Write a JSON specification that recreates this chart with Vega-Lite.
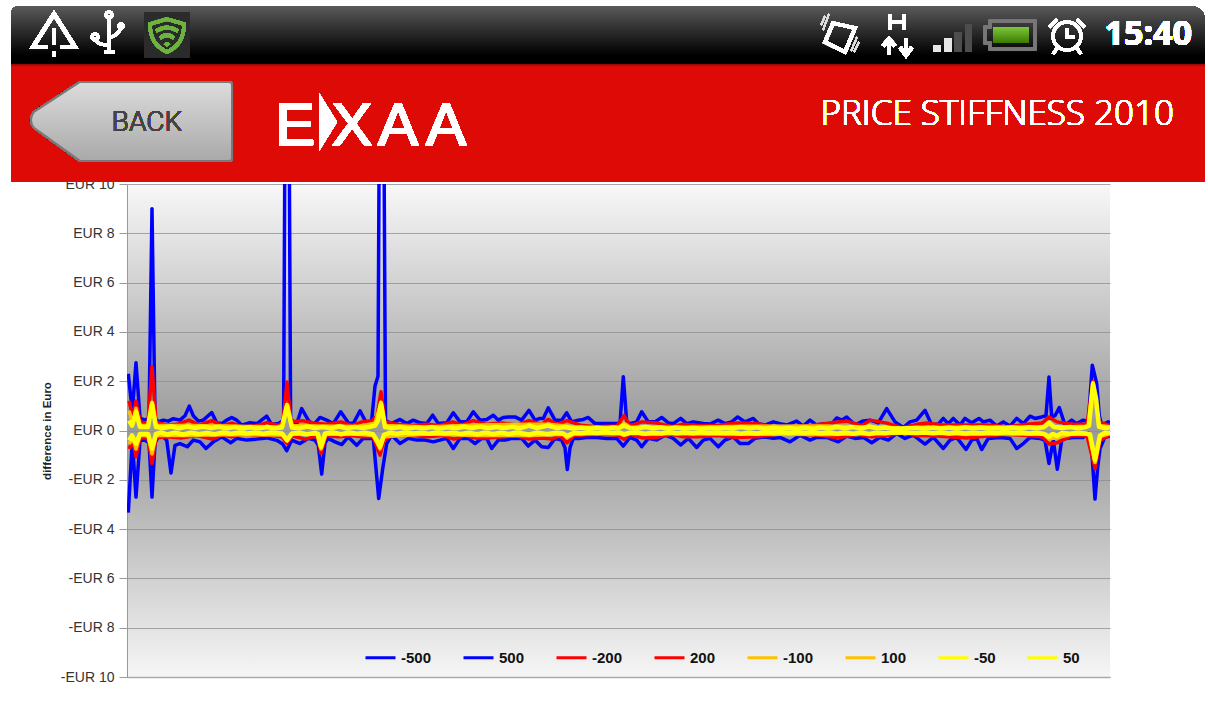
{"$schema":"https://vega.github.io/schema/vega-lite/v6.json","width":983,"height":493,"autosize":{"type":"none"},"padding":{"left":127,"top":184,"right":98,"bottom":30},"background":"#ffffff",
"view":{"stroke":null,"fill":{"gradient":"linear","x1":0,"y1":0,"x2":0,"y2":1,"stops":[{"offset":0,"color":"#f8f8f8"},{"offset":0.5,"color":"#999999"},{"offset":1,"color":"#f6f6f6"}]}},
"config":{"axisX":{"grid":false},"axisY":{"grid":true}},
"data":{"values":[
{"s":"-500","t":1.3,"v":-3.33},{"s":"-500","t":5.3,"v":-0.4},{"s":"-500","t":9,"v":-2.7},{"s":"-500","t":13,"v":-0.4},{"s":"-500","t":18,"v":-0.4},{"s":"-500","t":22,"v":-0.5},{"s":"-500","t":25,"v":-2.7},{"s":"-500","t":28,"v":-0.5},{"s":"-500","t":31.3,"v":-0.26},{"s":"-500","t":36.3,"v":-0.26},{"s":"-500","t":39.7,"v":-0.39},{"s":"-500","t":44,"v":-1.72},{"s":"-500","t":48,"v":-0.6},{"s":"-500","t":53,"v":-0.53},{"s":"-500","t":60.3,"v":-0.66},{"s":"-500","t":66.3,"v":-0.39},{"s":"-500","t":73,"v":-0.46},{"s":"-500","t":79,"v":-0.73},{"s":"-500","t":86.3,"v":-0.46},{"s":"-500","t":94.7,"v":-0.26},{"s":"-500","t":103.7,"v":-0.5},{"s":"-500","t":109.7,"v":-0.32},{"s":"-500","t":119.7,"v":-0.39},{"s":"-500","t":129.7,"v":-0.35},{"s":"-500","t":139.7,"v":-0.3},{"s":"-500","t":149.7,"v":-0.4},{"s":"-500","t":155.7,"v":-0.55},{"s":"-500","t":159.7,"v":-0.82},{"s":"-500","t":164.7,"v":-0.39},{"s":"-500","t":173,"v":-0.53},{"s":"-500","t":181.3,"v":-0.32},{"s":"-500","t":188,"v":-0.39},{"s":"-500","t":191.3,"v":-0.6},{"s":"-500","t":194.7,"v":-1.77},{"s":"-500","t":198,"v":-0.5},{"s":"-500","t":201.3,"v":-0.32},{"s":"-500","t":208,"v":-0.46},{"s":"-500","t":214.7,"v":-0.57},{"s":"-500","t":221.3,"v":-0.26},{"s":"-500","t":229.7,"v":-0.6},{"s":"-500","t":236.3,"v":-0.32},{"s":"-500","t":246.3,"v":-0.32},{"s":"-500","t":249,"v":-1.55},{"s":"-500","t":251.7,"v":-2.76},{"s":"-500","t":255.7,"v":-1.55},{"s":"-500","t":259.7,"v":-0.53},{"s":"-500","t":264.7,"v":-0.19},{"s":"-500","t":273,"v":-0.53},{"s":"-500","t":281.3,"v":-0.32},{"s":"-500","t":289.7,"v":-0.39},{"s":"-500","t":298,"v":-0.39},{"s":"-500","t":306.3,"v":-0.46},{"s":"-500","t":313,"v":-0.39},{"s":"-500","t":319.7,"v":-0.32},{"s":"-500","t":326.3,"v":-0.73},{"s":"-500","t":333,"v":-0.32},{"s":"-500","t":341.3,"v":-0.32},{"s":"-500","t":348,"v":-0.53},{"s":"-500","t":354.7,"v":-0.32},{"s":"-500","t":359.7,"v":-0.32},{"s":"-500","t":364.7,"v":-0.73},{"s":"-500","t":371.3,"v":-0.39},{"s":"-500","t":378,"v":-0.39},{"s":"-500","t":384.7,"v":-0.32},{"s":"-500","t":394.7,"v":-0.32},{"s":"-500","t":401.3,"v":-0.63},{"s":"-500","t":408,"v":-0.39},{"s":"-500","t":414.7,"v":-0.66},{"s":"-500","t":421.3,"v":-0.69},{"s":"-500","t":428,"v":-0.32},{"s":"-500","t":434.7,"v":-0.39},{"s":"-500","t":438,"v":-0.7},{"s":"-500","t":440.3,"v":-1.58},{"s":"-500","t":443,"v":-0.7},{"s":"-500","t":446.3,"v":-0.32},{"s":"-500","t":453,"v":-0.32},{"s":"-500","t":459.7,"v":-0.28},{"s":"-500","t":469.7,"v":-0.28},{"s":"-500","t":479.7,"v":-0.32},{"s":"-500","t":489.7,"v":-0.32},{"s":"-500","t":496.3,"v":-0.63},{"s":"-500","t":503,"v":-0.28},{"s":"-500","t":509.7,"v":-0.39},{"s":"-500","t":514.7,"v":-0.66},{"s":"-500","t":521.3,"v":-0.32},{"s":"-500","t":529.7,"v":-0.39},{"s":"-500","t":538,"v":-0.19},{"s":"-500","t":546.3,"v":-0.32},{"s":"-500","t":553.7,"v":-0.59},{"s":"-500","t":561.3,"v":-0.32},{"s":"-500","t":569.7,"v":-0.69},{"s":"-500","t":576.3,"v":-0.39},{"s":"-500","t":583,"v":-0.32},{"s":"-500","t":591.3,"v":-0.66},{"s":"-500","t":598,"v":-0.39},{"s":"-500","t":606.3,"v":-0.26},{"s":"-500","t":613,"v":-0.53},{"s":"-500","t":621.3,"v":-0.53},{"s":"-500","t":628,"v":-0.32},{"s":"-500","t":638,"v":-0.26},{"s":"-500","t":646.3,"v":-0.32},{"s":"-500","t":653,"v":-0.28},{"s":"-500","t":663,"v":-0.46},{"s":"-500","t":673,"v":-0.19},{"s":"-500","t":683,"v":-0.39},{"s":"-500","t":689.7,"v":-0.28},{"s":"-500","t":699.7,"v":-0.28},{"s":"-500","t":711.3,"v":-0.46},{"s":"-500","t":719.7,"v":-0.23},{"s":"-500","t":728,"v":-0.32},{"s":"-500","t":736.3,"v":-0.28},{"s":"-500","t":744.7,"v":-0.5},{"s":"-500","t":753,"v":-0.28},{"s":"-500","t":761.3,"v":-0.39},{"s":"-500","t":769.7,"v":-0.12},{"s":"-500","t":778,"v":-0.32},{"s":"-500","t":786.3,"v":-0.19},{"s":"-500","t":798,"v":-0.55},{"s":"-500","t":806.3,"v":-0.28},{"s":"-500","t":816.3,"v":-0.73},{"s":"-500","t":823,"v":-0.39},{"s":"-500","t":829.7,"v":-0.28},{"s":"-500","t":839,"v":-0.77},{"s":"-500","t":844.7,"v":-0.39},{"s":"-500","t":849.7,"v":-0.32},{"s":"-500","t":854.7,"v":-0.77},{"s":"-500","t":861.3,"v":-0.32},{"s":"-500","t":873,"v":-0.28},{"s":"-500","t":883,"v":-0.32},{"s":"-500","t":889.7,"v":-0.73},{"s":"-500","t":896.3,"v":-0.53},{"s":"-500","t":903,"v":-0.28},{"s":"-500","t":913,"v":-0.32},{"s":"-500","t":918,"v":-0.4},{"s":"-500","t":922,"v":-1.34},{"s":"-500","t":926.3,"v":-0.39},{"s":"-500","t":930.3,"v":-1.57},{"s":"-500","t":934.7,"v":-0.39},{"s":"-500","t":939.7,"v":-0.32},{"s":"-500","t":946.3,"v":-0.28},{"s":"-500","t":956.3,"v":-0.28},{"s":"-500","t":961.3,"v":-0.12},{"s":"-500","t":964.7,"v":-0.8},{"s":"-500","t":968,"v":-2.78},{"s":"-500","t":970.7,"v":-1.5},{"s":"-500","t":973,"v":-0.73},{"s":"-500","t":978,"v":-0.26},{"s":"-500","t":983,"v":-0.23},
{"s":"500","t":1.3,"v":2.3},{"s":"500","t":5.3,"v":0.75},{"s":"500","t":9,"v":2.75},{"s":"500","t":13,"v":0.5},{"s":"500","t":18,"v":0.42},{"s":"500","t":22,"v":0.5},{"s":"500","t":25,"v":9.0},{"s":"500","t":28,"v":0.5},{"s":"500","t":31.3,"v":0.35},{"s":"500","t":36.3,"v":0.42},{"s":"500","t":41.3,"v":0.38},{"s":"500","t":46.3,"v":0.48},{"s":"500","t":53,"v":0.42},{"s":"500","t":58,"v":0.6},{"s":"500","t":62.3,"v":0.99},{"s":"500","t":66.3,"v":0.6},{"s":"500","t":71.3,"v":0.38},{"s":"500","t":76.3,"v":0.42},{"s":"500","t":84.7,"v":0.73},{"s":"500","t":89.7,"v":0.31},{"s":"500","t":94.7,"v":0.28},{"s":"500","t":99.7,"v":0.42},{"s":"500","t":104.7,"v":0.53},{"s":"500","t":109.7,"v":0.42},{"s":"500","t":114.7,"v":0.22},{"s":"500","t":123,"v":0.32},{"s":"500","t":130,"v":0.28},{"s":"500","t":139.7,"v":0.58},{"s":"500","t":144.7,"v":0.24},{"s":"500","t":151.3,"v":0.28},{"s":"500","t":156.6,"v":0.4},{"s":"500","t":160,"v":30},{"s":"500","t":163.6,"v":0.45},{"s":"500","t":169.7,"v":0.28},{"s":"500","t":174.7,"v":0.89},{"s":"500","t":181.3,"v":0.42},{"s":"500","t":186.3,"v":0.22},{"s":"500","t":193,"v":0.53},{"s":"500","t":199.7,"v":0.42},{"s":"500","t":206.3,"v":0.28},{"s":"500","t":213.7,"v":0.76},{"s":"500","t":221.3,"v":0.31},{"s":"500","t":226.3,"v":0.28},{"s":"500","t":233,"v":0.8},{"s":"500","t":239.7,"v":0.28},{"s":"500","t":244.7,"v":0.42},{"s":"500","t":248,"v":1.8},{"s":"500","t":251,"v":2.2},{"s":"500","t":254.5,"v":30},{"s":"500","t":258.5,"v":0.4},{"s":"500","t":264.7,"v":0.28},{"s":"500","t":273,"v":0.45},{"s":"500","t":279.7,"v":0.28},{"s":"500","t":286.3,"v":0.42},{"s":"500","t":293,"v":0.31},{"s":"500","t":299.7,"v":0.28},{"s":"500","t":305.7,"v":0.62},{"s":"500","t":311.3,"v":0.28},{"s":"500","t":319.7,"v":0.31},{"s":"500","t":326.3,"v":0.72},{"s":"500","t":333,"v":0.35},{"s":"500","t":339.7,"v":0.35},{"s":"500","t":346.3,"v":0.76},{"s":"500","t":353,"v":0.42},{"s":"500","t":359.7,"v":0.45},{"s":"500","t":366.3,"v":0.62},{"s":"500","t":371.3,"v":0.42},{"s":"500","t":376.3,"v":0.53},{"s":"500","t":381.3,"v":0.55},{"s":"500","t":388,"v":0.55},{"s":"500","t":394.7,"v":0.42},{"s":"500","t":402,"v":0.82},{"s":"500","t":408,"v":0.42},{"s":"500","t":413,"v":0.49},{"s":"500","t":416.3,"v":0.49},{"s":"500","t":421.3,"v":0.92},{"s":"500","t":428,"v":0.42},{"s":"500","t":434.7,"v":0.42},{"s":"500","t":439.7,"v":0.72},{"s":"500","t":444.7,"v":0.35},{"s":"500","t":451.3,"v":0.42},{"s":"500","t":456.3,"v":0.45},{"s":"500","t":461.3,"v":0.53},{"s":"500","t":468,"v":0.28},{"s":"500","t":476.3,"v":0.28},{"s":"500","t":483,"v":0.28},{"s":"500","t":489.7,"v":0.28},{"s":"500","t":493,"v":0.3},{"s":"500","t":496.3,"v":2.18},{"s":"500","t":499.7,"v":0.35},{"s":"500","t":503,"v":0.28},{"s":"500","t":509.7,"v":0.35},{"s":"500","t":514.7,"v":0.76},{"s":"500","t":521.3,"v":0.35},{"s":"500","t":528,"v":0.35},{"s":"500","t":534.7,"v":0.53},{"s":"500","t":541.3,"v":0.31},{"s":"500","t":546.3,"v":0.28},{"s":"500","t":553.7,"v":0.49},{"s":"500","t":559.7,"v":0.28},{"s":"500","t":566.3,"v":0.35},{"s":"500","t":576.3,"v":0.28},{"s":"500","t":583,"v":0.26},{"s":"500","t":591.3,"v":0.42},{"s":"500","t":598,"v":0.28},{"s":"500","t":604.7,"v":0.35},{"s":"500","t":610.7,"v":0.55},{"s":"500","t":618,"v":0.35},{"s":"500","t":626.3,"v":0.49},{"s":"500","t":631.3,"v":0.28},{"s":"500","t":638,"v":0.22},{"s":"500","t":646.3,"v":0.35},{"s":"500","t":653,"v":0.28},{"s":"500","t":659.7,"v":0.22},{"s":"500","t":669.7,"v":0.38},{"s":"500","t":676.3,"v":0.18},{"s":"500","t":683,"v":0.42},{"s":"500","t":689.7,"v":0.22},{"s":"500","t":696.3,"v":0.28},{"s":"500","t":703,"v":0.18},{"s":"500","t":709.7,"v":0.51},{"s":"500","t":714.7,"v":0.42},{"s":"500","t":719.7,"v":0.55},{"s":"500","t":728,"v":0.22},{"s":"500","t":736.3,"v":0.39},{"s":"500","t":743,"v":0.42},{"s":"500","t":751.3,"v":0.31},{"s":"500","t":759.7,"v":0.89},{"s":"500","t":768,"v":0.35},{"s":"500","t":776.3,"v":0.12},{"s":"500","t":783,"v":0.35},{"s":"500","t":789.7,"v":0.42},{"s":"500","t":798,"v":0.82},{"s":"500","t":804.7,"v":0.22},{"s":"500","t":811.3,"v":0.26},{"s":"500","t":816.3,"v":0.49},{"s":"500","t":821.3,"v":0.28},{"s":"500","t":826.3,"v":0.49},{"s":"500","t":833,"v":0.22},{"s":"500","t":838,"v":0.49},{"s":"500","t":844.7,"v":0.31},{"s":"500","t":852,"v":0.49},{"s":"500","t":856.3,"v":0.35},{"s":"500","t":863,"v":0.42},{"s":"500","t":869.7,"v":0.18},{"s":"500","t":876.3,"v":0.35},{"s":"500","t":883,"v":0.18},{"s":"500","t":889.7,"v":0.49},{"s":"500","t":896.3,"v":0.28},{"s":"500","t":903,"v":0.58},{"s":"500","t":908,"v":0.49},{"s":"500","t":914.7,"v":0.55},{"s":"500","t":919,"v":0.6},{"s":"500","t":922,"v":2.17},{"s":"500","t":924.7,"v":0.55},{"s":"500","t":928,"v":0.6},{"s":"500","t":932.3,"v":0.93},{"s":"500","t":938,"v":0.22},{"s":"500","t":944.7,"v":0.42},{"s":"500","t":949.7,"v":0.28},{"s":"500","t":956.3,"v":0.42},{"s":"500","t":961.3,"v":0.35},{"s":"500","t":965.3,"v":2.65},{"s":"500","t":969.7,"v":1.9},{"s":"500","t":972.3,"v":0.6},{"s":"500","t":974.7,"v":0.22},{"s":"500","t":981.3,"v":0.35},{"s":"500","t":983,"v":0.15},
{"s":"-200","t":2,"v":-0.75},{"s":"-200","t":6,"v":-0.4},{"s":"-200","t":9,"v":-1.07},{"s":"-200","t":13,"v":-0.3},{"s":"-200","t":21,"v":-0.3},{"s":"-200","t":25,"v":-1.34},{"s":"-200","t":29,"v":-0.3},{"s":"-200","t":40,"v":-0.25},{"s":"-200","t":55,"v":-0.3},{"s":"-200","t":70,"v":-0.2},{"s":"-200","t":85,"v":-0.35},{"s":"-200","t":95,"v":-0.18},{"s":"-200","t":105,"v":-0.25},{"s":"-200","t":115,"v":-0.15},{"s":"-200","t":130,"v":-0.2},{"s":"-200","t":145,"v":-0.2},{"s":"-200","t":155,"v":-0.25},{"s":"-200","t":160,"v":-0.53},{"s":"-200","t":165,"v":-0.22},{"s":"-200","t":178,"v":-0.35},{"s":"-200","t":190,"v":-0.22},{"s":"-200","t":194,"v":-0.93},{"s":"-200","t":199,"v":-0.2},{"s":"-200","t":212,"v":-0.25},{"s":"-200","t":225,"v":-0.2},{"s":"-200","t":235,"v":-0.25},{"s":"-200","t":246,"v":-0.25},{"s":"-200","t":250,"v":-0.7},{"s":"-200","t":253,"v":-1.0},{"s":"-200","t":257,"v":-0.4},{"s":"-200","t":265,"v":-0.2},{"s":"-200","t":285,"v":-0.2},{"s":"-200","t":300,"v":-0.25},{"s":"-200","t":315,"v":-0.2},{"s":"-200","t":327,"v":-0.35},{"s":"-200","t":338,"v":-0.2},{"s":"-200","t":348,"v":-0.3},{"s":"-200","t":360,"v":-0.3},{"s":"-200","t":375,"v":-0.25},{"s":"-200","t":390,"v":-0.22},{"s":"-200","t":402,"v":-0.35},{"s":"-200","t":415,"v":-0.3},{"s":"-200","t":425,"v":-0.35},{"s":"-200","t":433,"v":-0.2},{"s":"-200","t":440,"v":-0.5},{"s":"-200","t":447,"v":-0.2},{"s":"-200","t":470,"v":-0.15},{"s":"-200","t":490,"v":-0.18},{"s":"-200","t":497,"v":-0.35},{"s":"-200","t":503,"v":-0.15},{"s":"-200","t":515,"v":-0.3},{"s":"-200","t":530,"v":-0.28},{"s":"-200","t":545,"v":-0.15},{"s":"-200","t":555,"v":-0.25},{"s":"-200","t":570,"v":-0.25},{"s":"-200","t":590,"v":-0.2},{"s":"-200","t":610,"v":-0.28},{"s":"-200","t":630,"v":-0.25},{"s":"-200","t":650,"v":-0.15},{"s":"-200","t":670,"v":-0.15},{"s":"-200","t":690,"v":-0.18},{"s":"-200","t":712,"v":-0.3},{"s":"-200","t":730,"v":-0.15},{"s":"-200","t":745,"v":-0.25},{"s":"-200","t":760,"v":-0.2},{"s":"-200","t":775,"v":-0.1},{"s":"-200","t":790,"v":-0.2},{"s":"-200","t":810,"v":-0.22},{"s":"-200","t":840,"v":-0.3},{"s":"-200","t":860,"v":-0.22},{"s":"-200","t":880,"v":-0.15},{"s":"-200","t":900,"v":-0.2},{"s":"-200","t":915,"v":-0.25},{"s":"-200","t":922,"v":-0.55},{"s":"-200","t":930,"v":-0.5},{"s":"-200","t":945,"v":-0.2},{"s":"-200","t":960,"v":-0.22},{"s":"-200","t":968,"v":-1.55},{"s":"-200","t":973,"v":-0.4},{"s":"-200","t":983,"v":-0.18},
{"s":"200","t":2,"v":1.2},{"s":"200","t":6,"v":0.5},{"s":"200","t":9,"v":1.2},{"s":"200","t":13,"v":0.35},{"s":"200","t":21,"v":0.3},{"s":"200","t":25,"v":2.6},{"s":"200","t":29,"v":0.35},{"s":"200","t":40,"v":0.22},{"s":"200","t":50,"v":0.25},{"s":"200","t":62,"v":0.42},{"s":"200","t":72,"v":0.22},{"s":"200","t":85,"v":0.4},{"s":"200","t":95,"v":0.2},{"s":"200","t":105,"v":0.3},{"s":"200","t":115,"v":0.15},{"s":"200","t":130,"v":0.2},{"s":"200","t":140,"v":0.32},{"s":"200","t":152,"v":0.2},{"s":"200","t":156,"v":0.35},{"s":"200","t":160,"v":1.97},{"s":"200","t":164,"v":0.35},{"s":"200","t":175,"v":0.4},{"s":"200","t":190,"v":0.28},{"s":"200","t":200,"v":0.25},{"s":"200","t":214,"v":0.35},{"s":"200","t":225,"v":0.2},{"s":"200","t":235,"v":0.35},{"s":"200","t":245,"v":0.4},{"s":"200","t":250,"v":0.6},{"s":"200","t":254,"v":1.57},{"s":"200","t":258,"v":0.35},{"s":"200","t":270,"v":0.25},{"s":"200","t":285,"v":0.2},{"s":"200","t":300,"v":0.25},{"s":"200","t":312,"v":0.2},{"s":"200","t":326,"v":0.35},{"s":"200","t":335,"v":0.22},{"s":"200","t":346,"v":0.4},{"s":"200","t":360,"v":0.25},{"s":"200","t":375,"v":0.3},{"s":"200","t":390,"v":0.22},{"s":"200","t":402,"v":0.4},{"s":"200","t":415,"v":0.25},{"s":"200","t":421,"v":0.45},{"s":"200","t":430,"v":0.25},{"s":"200","t":440,"v":0.4},{"s":"200","t":455,"v":0.2},{"s":"200","t":470,"v":0.15},{"s":"200","t":490,"v":0.18},{"s":"200","t":497,"v":0.6},{"s":"200","t":503,"v":0.2},{"s":"200","t":515,"v":0.35},{"s":"200","t":530,"v":0.3},{"s":"200","t":545,"v":0.15},{"s":"200","t":555,"v":0.25},{"s":"200","t":570,"v":0.2},{"s":"200","t":590,"v":0.2},{"s":"200","t":610,"v":0.3},{"s":"200","t":630,"v":0.28},{"s":"200","t":645,"v":0.15},{"s":"200","t":660,"v":0.15},{"s":"200","t":680,"v":0.18},{"s":"200","t":705,"v":0.32},{"s":"200","t":720,"v":0.38},{"s":"200","t":735,"v":0.2},{"s":"200","t":743,"v":0.42},{"s":"200","t":760,"v":0.3},{"s":"200","t":775,"v":0.1},{"s":"200","t":790,"v":0.25},{"s":"200","t":800,"v":0.3},{"s":"200","t":815,"v":0.22},{"s":"200","t":840,"v":0.22},{"s":"200","t":860,"v":0.22},{"s":"200","t":880,"v":0.15},{"s":"200","t":900,"v":0.25},{"s":"200","t":915,"v":0.3},{"s":"200","t":922,"v":0.55},{"s":"200","t":930,"v":0.35},{"s":"200","t":945,"v":0.25},{"s":"200","t":960,"v":0.25},{"s":"200","t":966,"v":2.0},{"s":"200","t":972,"v":0.35},{"s":"200","t":983,"v":0.2},
{"s":"-100","t":2,"v":-0.55},{"s":"-100","t":6,"v":-0.3},{"s":"-100","t":9,"v":-0.75},{"s":"-100","t":13,"v":-0.2},{"s":"-100","t":21,"v":-0.2},{"s":"-100","t":25,"v":-0.95},{"s":"-100","t":29,"v":-0.2},{"s":"-100","t":60,"v":-0.2},{"s":"-100","t":100,"v":-0.16},{"s":"-100","t":155,"v":-0.18},{"s":"-100","t":160,"v":-0.42},{"s":"-100","t":165,"v":-0.15},{"s":"-100","t":190,"v":-0.15},{"s":"-100","t":194,"v":-0.75},{"s":"-100","t":199,"v":-0.15},{"s":"-100","t":230,"v":-0.15},{"s":"-100","t":246,"v":-0.2},{"s":"-100","t":250,"v":-0.5},{"s":"-100","t":253,"v":-0.75},{"s":"-100","t":257,"v":-0.25},{"s":"-100","t":300,"v":-0.14},{"s":"-100","t":350,"v":-0.2},{"s":"-100","t":402,"v":-0.2},{"s":"-100","t":436,"v":-0.15},{"s":"-100","t":440,"v":-0.3},{"s":"-100","t":447,"v":-0.14},{"s":"-100","t":492,"v":-0.12},{"s":"-100","t":497,"v":-0.2},{"s":"-100","t":503,"v":-0.12},{"s":"-100","t":560,"v":-0.13},{"s":"-100","t":620,"v":-0.15},{"s":"-100","t":700,"v":-0.16},{"s":"-100","t":780,"v":-0.1},{"s":"-100","t":850,"v":-0.14},{"s":"-100","t":917,"v":-0.15},{"s":"-100","t":922,"v":-0.35},{"s":"-100","t":930,"v":-0.3},{"s":"-100","t":945,"v":-0.14},{"s":"-100","t":962,"v":-0.15},{"s":"-100","t":968,"v":-1.3},{"s":"-100","t":973,"v":-0.25},{"s":"-100","t":983,"v":-0.12},
{"s":"100","t":2,"v":0.8},{"s":"100","t":6,"v":0.3},{"s":"100","t":9,"v":0.9},{"s":"100","t":13,"v":0.2},{"s":"100","t":21,"v":0.2},{"s":"100","t":25,"v":1.15},{"s":"100","t":29,"v":0.2},{"s":"100","t":60,"v":0.2},{"s":"100","t":100,"v":0.18},{"s":"100","t":150,"v":0.14},{"s":"100","t":156,"v":0.2},{"s":"100","t":160,"v":1.05},{"s":"100","t":164,"v":0.2},{"s":"100","t":190,"v":0.18},{"s":"100","t":230,"v":0.16},{"s":"100","t":248,"v":0.3},{"s":"100","t":254,"v":1.15},{"s":"100","t":258,"v":0.2},{"s":"100","t":300,"v":0.14},{"s":"100","t":350,"v":0.22},{"s":"100","t":402,"v":0.25},{"s":"100","t":421,"v":0.25},{"s":"100","t":450,"v":0.14},{"s":"100","t":492,"v":0.13},{"s":"100","t":497,"v":0.3},{"s":"100","t":503,"v":0.13},{"s":"100","t":560,"v":0.13},{"s":"100","t":620,"v":0.17},{"s":"100","t":700,"v":0.18},{"s":"100","t":780,"v":0.1},{"s":"100","t":850,"v":0.14},{"s":"100","t":917,"v":0.15},{"s":"100","t":922,"v":0.35},{"s":"100","t":927,"v":0.15},{"s":"100","t":945,"v":0.15},{"s":"100","t":961,"v":0.17},{"s":"100","t":966,"v":1.95},{"s":"100","t":972,"v":0.2},{"s":"100","t":983,"v":0.15},
{"s":"-50","t":2,"v":-0.4},{"s":"-50","t":5,"v":-0.2},{"s":"-50","t":9,"v":-0.53},{"s":"-50","t":13,"v":-0.14},{"s":"-50","t":21,"v":-0.14},{"s":"-50","t":25,"v":-0.73},{"s":"-50","t":29,"v":-0.14},{"s":"-50","t":34,"v":-0.08},{"s":"-50","t":40,"v":-0.16},{"s":"-50","t":48,"v":-0.09},{"s":"-50","t":56,"v":-0.16},{"s":"-50","t":64,"v":-0.09},{"s":"-50","t":72,"v":-0.14},{"s":"-50","t":80,"v":-0.1},{"s":"-50","t":88,"v":-0.15},{"s":"-50","t":96,"v":-0.08},{"s":"-50","t":104,"v":-0.13},{"s":"-50","t":112,"v":-0.08},{"s":"-50","t":120,"v":-0.12},{"s":"-50","t":128,"v":-0.08},{"s":"-50","t":136,"v":-0.13},{"s":"-50","t":144,"v":-0.08},{"s":"-50","t":155,"v":-0.12},{"s":"-50","t":160,"v":-0.39},{"s":"-50","t":165,"v":-0.12},{"s":"-50","t":172,"v":-0.09},{"s":"-50","t":180,"v":-0.15},{"s":"-50","t":188,"v":-0.1},{"s":"-50","t":191,"v":-0.14},{"s":"-50","t":194,"v":-0.66},{"s":"-50","t":198,"v":-0.12},{"s":"-50","t":206,"v":-0.08},{"s":"-50","t":214,"v":-0.15},{"s":"-50","t":222,"v":-0.08},{"s":"-50","t":230,"v":-0.13},{"s":"-50","t":238,"v":-0.09},{"s":"-50","t":246,"v":-0.15},{"s":"-50","t":250,"v":-0.4},{"s":"-50","t":253,"v":-0.66},{"s":"-50","t":257,"v":-0.18},{"s":"-50","t":263,"v":-0.09},{"s":"-50","t":270,"v":-0.13},{"s":"-50","t":278,"v":-0.08},{"s":"-50","t":286,"v":-0.12},{"s":"-50","t":294,"v":-0.09},{"s":"-50","t":302,"v":-0.13},{"s":"-50","t":310,"v":-0.08},{"s":"-50","t":318,"v":-0.12},{"s":"-50","t":326,"v":-0.09},{"s":"-50","t":334,"v":-0.14},{"s":"-50","t":342,"v":-0.09},{"s":"-50","t":350,"v":-0.15},{"s":"-50","t":358,"v":-0.09},{"s":"-50","t":366,"v":-0.14},{"s":"-50","t":374,"v":-0.09},{"s":"-50","t":382,"v":-0.14},{"s":"-50","t":390,"v":-0.08},{"s":"-50","t":402,"v":-0.16},{"s":"-50","t":410,"v":-0.09},{"s":"-50","t":420,"v":-0.14},{"s":"-50","t":430,"v":-0.09},{"s":"-50","t":436,"v":-0.12},{"s":"-50","t":440,"v":-0.22},{"s":"-50","t":447,"v":-0.09},{"s":"-50","t":454,"v":-0.11},{"s":"-50","t":462,"v":-0.07},{"s":"-50","t":470,"v":-0.1},{"s":"-50","t":478,"v":-0.07},{"s":"-50","t":486,"v":-0.1},{"s":"-50","t":492,"v":-0.08},{"s":"-50","t":497,"v":-0.15},{"s":"-50","t":503,"v":-0.09},{"s":"-50","t":510,"v":-0.08},{"s":"-50","t":518,"v":-0.13},{"s":"-50","t":526,"v":-0.09},{"s":"-50","t":534,"v":-0.12},{"s":"-50","t":542,"v":-0.07},{"s":"-50","t":550,"v":-0.11},{"s":"-50","t":558,"v":-0.08},{"s":"-50","t":566,"v":-0.11},{"s":"-50","t":574,"v":-0.07},{"s":"-50","t":582,"v":-0.1},{"s":"-50","t":590,"v":-0.08},{"s":"-50","t":598,"v":-0.1},{"s":"-50","t":606,"v":-0.08},{"s":"-50","t":614,"v":-0.13},{"s":"-50","t":622,"v":-0.09},{"s":"-50","t":630,"v":-0.12},{"s":"-50","t":638,"v":-0.07},{"s":"-50","t":646,"v":-0.09},{"s":"-50","t":654,"v":-0.07},{"s":"-50","t":662,"v":-0.1},{"s":"-50","t":670,"v":-0.07},{"s":"-50","t":678,"v":-0.1},{"s":"-50","t":686,"v":-0.07},{"s":"-50","t":694,"v":-0.11},{"s":"-50","t":702,"v":-0.08},{"s":"-50","t":710,"v":-0.13},{"s":"-50","t":718,"v":-0.08},{"s":"-50","t":726,"v":-0.13},{"s":"-50","t":734,"v":-0.08},{"s":"-50","t":742,"v":-0.14},{"s":"-50","t":750,"v":-0.09},{"s":"-50","t":758,"v":-0.11},{"s":"-50","t":766,"v":-0.08},{"s":"-50","t":774,"v":-0.07},{"s":"-50","t":782,"v":-0.09},{"s":"-50","t":790,"v":-0.1},{"s":"-50","t":798,"v":-0.08},{"s":"-50","t":806,"v":-0.11},{"s":"-50","t":814,"v":-0.08},{"s":"-50","t":822,"v":-0.12},{"s":"-50","t":830,"v":-0.08},{"s":"-50","t":838,"v":-0.12},{"s":"-50","t":846,"v":-0.09},{"s":"-50","t":854,"v":-0.11},{"s":"-50","t":862,"v":-0.08},{"s":"-50","t":870,"v":-0.1},{"s":"-50","t":878,"v":-0.07},{"s":"-50","t":886,"v":-0.1},{"s":"-50","t":894,"v":-0.08},{"s":"-50","t":902,"v":-0.12},{"s":"-50","t":910,"v":-0.09},{"s":"-50","t":917,"v":-0.14},{"s":"-50","t":922,"v":-0.25},{"s":"-50","t":926,"v":-0.14},{"s":"-50","t":930,"v":-0.22},{"s":"-50","t":935,"v":-0.1},{"s":"-50","t":943,"v":-0.13},{"s":"-50","t":951,"v":-0.09},{"s":"-50","t":958,"v":-0.12},{"s":"-50","t":963,"v":-0.16},{"s":"-50","t":968,"v":-1.2},{"s":"-50","t":973,"v":-0.2},{"s":"-50","t":978,"v":-0.09},{"s":"-50","t":983,"v":-0.1},
{"s":"50","t":2,"v":0.4},{"s":"50","t":5,"v":0.2},{"s":"50","t":9,"v":0.76},{"s":"50","t":13,"v":0.14},{"s":"50","t":21,"v":0.14},{"s":"50","t":25,"v":1.1},{"s":"50","t":29,"v":0.14},{"s":"50","t":36,"v":0.1},{"s":"50","t":44,"v":0.16},{"s":"50","t":52,"v":0.09},{"s":"50","t":60,"v":0.16},{"s":"50","t":68,"v":0.1},{"s":"50","t":76,"v":0.15},{"s":"50","t":84,"v":0.1},{"s":"50","t":92,"v":0.15},{"s":"50","t":100,"v":0.09},{"s":"50","t":108,"v":0.14},{"s":"50","t":116,"v":0.08},{"s":"50","t":124,"v":0.13},{"s":"50","t":132,"v":0.09},{"s":"50","t":140,"v":0.14},{"s":"50","t":148,"v":0.09},{"s":"50","t":155,"v":0.12},{"s":"50","t":160,"v":1.03},{"s":"50","t":165,"v":0.12},{"s":"50","t":172,"v":0.09},{"s":"50","t":180,"v":0.16},{"s":"50","t":188,"v":0.1},{"s":"50","t":196,"v":0.14},{"s":"50","t":204,"v":0.09},{"s":"50","t":212,"v":0.16},{"s":"50","t":220,"v":0.09},{"s":"50","t":228,"v":0.14},{"s":"50","t":236,"v":0.1},{"s":"50","t":243,"v":0.15},{"s":"50","t":248,"v":0.2},{"s":"50","t":251,"v":0.4},{"s":"50","t":254,"v":1.1},{"s":"50","t":258,"v":0.14},{"s":"50","t":265,"v":0.09},{"s":"50","t":273,"v":0.14},{"s":"50","t":281,"v":0.08},{"s":"50","t":289,"v":0.13},{"s":"50","t":297,"v":0.09},{"s":"50","t":305,"v":0.14},{"s":"50","t":313,"v":0.08},{"s":"50","t":321,"v":0.13},{"s":"50","t":329,"v":0.09},{"s":"50","t":337,"v":0.15},{"s":"50","t":345,"v":0.1},{"s":"50","t":353,"v":0.16},{"s":"50","t":361,"v":0.09},{"s":"50","t":369,"v":0.14},{"s":"50","t":377,"v":0.1},{"s":"50","t":385,"v":0.15},{"s":"50","t":393,"v":0.09},{"s":"50","t":402,"v":0.2},{"s":"50","t":410,"v":0.1},{"s":"50","t":421,"v":0.2},{"s":"50","t":430,"v":0.1},{"s":"50","t":438,"v":0.14},{"s":"50","t":446,"v":0.08},{"s":"50","t":454,"v":0.12},{"s":"50","t":462,"v":0.08},{"s":"50","t":470,"v":0.11},{"s":"50","t":478,"v":0.07},{"s":"50","t":486,"v":0.11},{"s":"50","t":492,"v":0.1},{"s":"50","t":497,"v":0.2},{"s":"50","t":503,"v":0.1},{"s":"50","t":510,"v":0.08},{"s":"50","t":518,"v":0.14},{"s":"50","t":526,"v":0.09},{"s":"50","t":534,"v":0.13},{"s":"50","t":542,"v":0.07},{"s":"50","t":550,"v":0.12},{"s":"50","t":558,"v":0.08},{"s":"50","t":566,"v":0.11},{"s":"50","t":574,"v":0.07},{"s":"50","t":582,"v":0.1},{"s":"50","t":590,"v":0.08},{"s":"50","t":598,"v":0.11},{"s":"50","t":606,"v":0.09},{"s":"50","t":614,"v":0.14},{"s":"50","t":622,"v":0.09},{"s":"50","t":630,"v":0.13},{"s":"50","t":638,"v":0.07},{"s":"50","t":646,"v":0.1},{"s":"50","t":654,"v":0.07},{"s":"50","t":662,"v":0.1},{"s":"50","t":670,"v":0.07},{"s":"50","t":678,"v":0.11},{"s":"50","t":686,"v":0.07},{"s":"50","t":694,"v":0.12},{"s":"50","t":702,"v":0.08},{"s":"50","t":710,"v":0.14},{"s":"50","t":718,"v":0.09},{"s":"50","t":726,"v":0.14},{"s":"50","t":734,"v":0.08},{"s":"50","t":742,"v":0.16},{"s":"50","t":750,"v":0.09},{"s":"50","t":758,"v":0.12},{"s":"50","t":766,"v":0.08},{"s":"50","t":774,"v":0.07},{"s":"50","t":782,"v":0.09},{"s":"50","t":790,"v":0.11},{"s":"50","t":798,"v":0.08},{"s":"50","t":806,"v":0.12},{"s":"50","t":814,"v":0.08},{"s":"50","t":822,"v":0.12},{"s":"50","t":830,"v":0.08},{"s":"50","t":838,"v":0.13},{"s":"50","t":846,"v":0.09},{"s":"50","t":854,"v":0.12},{"s":"50","t":862,"v":0.08},{"s":"50","t":870,"v":0.1},{"s":"50","t":878,"v":0.07},{"s":"50","t":886,"v":0.11},{"s":"50","t":894,"v":0.08},{"s":"50","t":902,"v":0.13},{"s":"50","t":910,"v":0.09},{"s":"50","t":917,"v":0.14},{"s":"50","t":922,"v":0.3},{"s":"50","t":927,"v":0.14},{"s":"50","t":935,"v":0.1},{"s":"50","t":943,"v":0.14},{"s":"50","t":951,"v":0.09},{"s":"50","t":958,"v":0.13},{"s":"50","t":962,"v":0.2},{"s":"50","t":966,"v":1.9},{"s":"50","t":969,"v":1.3},{"s":"50","t":972,"v":0.15},{"s":"50","t":978,"v":0.1},{"s":"50","t":983,"v":0.12}
]},
"layer":[
{"mark":{"type":"line","clip":true,"strokeJoin":"round"},
"encoding":{
"x":{"field":"t","type":"quantitative","scale":{"domain":[0,983],"nice":false,"zero":false},"axis":{"title":null,"labels":false,"ticks":false,"grid":false,"domain":true,"domainColor":"#aaaaaa","domainWidth":1.5}},
"y":{"field":"v","type":"quantitative","scale":{"domain":[-10,10],"nice":false,"zero":false},"axis":{"title":"difference in Euro","titleFont":"Liberation Sans","titleFontWeight":"bold","titleFontSize":11.5,"titleColor":"#222222","titlePadding":8,"values":[-10,-8,-6,-4,-2,0,2,4,6,8,10],"labelExpr":"datum.value<0?'-EUR '+abs(datum.value):'EUR '+datum.value","labelFont":"Liberation Sans","labelFontSize":14,"labelColor":"#333333","labelPadding":5,"tickSize":8,"tickColor":"#999999","domain":true,"domainColor":"#999999","grid":true,"gridColor":"#8c8c8c","gridOpacity":0.75,"gridWidth":1}},
"order":{"field":"t","type":"quantitative"},
"strokeWidth":{"condition":{"test":"datum.s=='50'||datum.s=='-50'","value":4.5},"value":3.5},
"color":{"field":"s","type":"nominal","scale":{"domain":["-500","500","-200","200","-100","100","-50","50"],"range":["#0000ff","#0000ff","#ff0000","#ff0000","#ffc000","#ffc000","#ffff00","#ffff00"]},
"legend":{"title":null,"orient":"none","legendX":237,"legendY":457,"direction":"horizontal","columns":8,"symbolType":"stroke","symbolSize":900,"symbolStrokeWidth":3,"labelFont":"Liberation Sans","labelFontWeight":"bold","labelFontSize":15,"labelColor":"#111111","labelOffset":4,"columnPadding":25,"padding":0,"rowPadding":0}}}},
{"mark":{"type":"rect","cornerRadiusTopLeft":8,"cornerRadiusTopRight":14,"fill":{"gradient":"linear","x1":0,"y1":0,"x2":0,"y2":1,"stops":[{"offset":0,"color":"#5a5a5a"},{"offset":0.45,"color":"#2a2a2a"},{"offset":0.85,"color":"#000000"},{"offset":1,"color":"#000000"}]}},"encoding":{"x":{"datum":-116},"x2":{"datum":1078},"y":{"datum":17.22},"y2":{"datum":14.87}}},
{"mark":{"type":"rect","fill":{"gradient":"linear","x1":0,"y1":0,"x2":0,"y2":1,"stops":[{"offset":0,"color":"#8f0503"},{"offset":0.025,"color":"#dd0a06"},{"offset":1,"color":"#dd0a06"}]}},"encoding":{"x":{"datum":-116},"x2":{"datum":1078},"y":{"datum":14.87},"y2":{"datum":10.08}}},
{"mark":{"type":"point","shape":"M-50,-40 L99,-40 Q102,-40 102,-37 L102,36 Q102,39 99,39 L-50,39 L-96,6 Q-102,-2 -96,-10 Z","size":4,"filled":true,"opacity":1,"stroke":"#7a7a7a","strokeWidth":2,"fill":{"gradient":"linear","x1":0,"y1":0,"x2":0,"y2":1,"stops":[{"offset":0,"color":"#dcdcdc"},{"offset":1,"color":"#a9a9a9"}]}},"encoding":{"x":{"datum":3},"y":{"datum":12.52}}},
{"mark":{"type":"text","text":"BACK","font":"Roboto","fontSize":28,"fontWeight":300,"fill":"#444444","align":"center","baseline":"middle"},"encoding":{"x":{"datum":20},"y":{"datum":12.47}}},
{"mark":{"type":"text","text":"E","font":"Liberation Sans","fontSize":60,"fill":"#ffffff","stroke":"#ffffff","strokeWidth":1.2,"align":"center","baseline":"alphabetic"},"encoding":{"x":{"datum":168},"y":{"datum":11.58}}},
{"mark":{"type":"text","text":"X","font":"Liberation Sans","fontSize":60,"fill":"#ffffff","stroke":"#ffffff","strokeWidth":1.2,"align":"center","baseline":"alphabetic"},"encoding":{"x":{"datum":225},"y":{"datum":11.58}}},
{"mark":{"type":"text","text":"A","font":"Liberation Sans","fontSize":60,"fill":"#ffffff","stroke":"#ffffff","strokeWidth":1.2,"align":"center","baseline":"alphabetic"},"encoding":{"x":{"datum":271},"y":{"datum":11.58}}},
{"mark":{"type":"text","text":"A","font":"Liberation Sans","fontSize":60,"fill":"#ffffff","stroke":"#ffffff","strokeWidth":1.2,"align":"center","baseline":"alphabetic"},"encoding":{"x":{"datum":319},"y":{"datum":11.58}}},
{"mark":{"type":"point","shape":"M-8,-29 L10,0 L-8,29 Z","size":4,"filled":true,"opacity":1,"fill":"#ffffff"},"encoding":{"x":{"datum":200},"y":{"datum":12.52}}},
{"mark":{"type":"text","text":"PRICE STIFFNESS 2010","font":"Open Sans","fontSize":35,"fontWeight":300,"fill":"#ffffff","align":"right","baseline":"middle"},"encoding":{"x":{"datum":1047},"y":{"datum":12.82}}},
{"mark":{"type":"text","text":"15:40","font":"Open Sans","fontWeight":"bold","fontSize":34,"fill":"#ffffff","align":"right","baseline":"middle"},"encoding":{"x":{"datum":1065},"y":{"datum":16.03}}},
{"mark":{"type":"point","shape":"M-6,17 L-21,17 L0,-16 L21,17 L6,17 M0,-2 L0,15 M0,21 L0,27","size":4,"filled":false,"opacity":1,"stroke":"#ffffff","strokeWidth":4},"encoding":{"x":{"datum":-73},"y":{"datum":16.25}}},
{"mark":{"type":"point","shape":"M0,-19 L0,18 M-5,18 L6,18 M0,11 C-9,11 -14,8 -14,3 M0,4 C7,2 11,-2 12,-8 M-3,-19 a3,3 0 1,0 6,0 a3,3 0 1,0 -6,0 M-17,3 a3,3 0 1,0 6,0 a3,3 0 1,0 -6,0 M10,-8 a2,2 0 1,0 4,0 a2,2 0 1,0 -4,0","size":4,"filled":false,"opacity":1,"stroke":"#ffffff","strokeWidth":3},"encoding":{"x":{"datum":-18},"y":{"datum":16.09}}},
{"mark":{"type":"point","shape":"M-23,-23 L23,-23 L23,23 L-23,23 Z","size":4,"filled":true,"opacity":1,"fill":"#2b2b2b"},"encoding":{"x":{"datum":40},"y":{"datum":16.04}}},
{"mark":{"type":"point","shape":"M0,-16 L17,-11 C17,5 10,12 0,17 C-10,12 -17,5 -17,-11 Z M-11,-4 Q0,-11 11,-4 M-7,3 Q0,-3 7,3 M-2,10 Q0,8 2,10","size":4,"filled":false,"opacity":1,"stroke":"#6db33f","strokeWidth":3.5},"encoding":{"x":{"datum":40},"y":{"datum":16.04}}},
{"mark":{"type":"point","shape":"M-7,-12 L15,-7 L5,17 L-15,7 Z","size":4,"filled":false,"opacity":1,"stroke":"#ffffff","strokeWidth":3.5},"encoding":{"x":{"datum":713},"y":{"datum":16.04}}},
{"mark":{"type":"point","shape":"M-15,-19 L-19,-10 M-11,-21 L-17,-5 M11,16 L17,2 M14,17 L19,7","size":4,"filled":false,"opacity":1,"stroke":"#dddddd","strokeWidth":1.5},"encoding":{"x":{"datum":713},"y":{"datum":16.04}}},
{"mark":{"type":"point","shape":"M-7,-21 L-7,-5 M7,-21 L7,-5 M-7,-13 L7,-13 M-8,20 L-8,6 M-14,11 L-8,4 L-2,11 M9,3 L9,18 M3,12 L9,20 L15,12","size":4,"filled":false,"opacity":1,"stroke":"#ffffff","strokeWidth":4},"encoding":{"x":{"datum":770},"y":{"datum":16.04}}},
{"mark":{"type":"point","shape":"M-19,7 L-11,7 L-11,14 L-19,14 Z M-8,0 L0,0 L0,14 L-8,14 Z","size":4,"filled":true,"opacity":1,"fill":"#e6e6e6"},"encoding":{"x":{"datum":825},"y":{"datum":15.92}}},
{"mark":{"type":"point","shape":"M2,-6 L10,-6 L10,14 L2,14 Z M13,-14 L20,-14 L20,14 L13,14 Z","size":4,"filled":true,"opacity":1,"fill":"#4d4d4d"},"encoding":{"x":{"datum":825},"y":{"datum":15.92}}},
{"mark":{"type":"point","shape":"M-20,-14 L25,-14 L25,14 L-20,14 L-20,8 L-25,8 L-25,-8 L-20,-8 Z","size":4,"filled":false,"opacity":1,"stroke":"#777777","strokeWidth":2.5},"encoding":{"x":{"datum":883},"y":{"datum":16.04}}},
{"mark":{"type":"point","shape":"M-17,-8 L19,-8 L19,8 L-17,8 Z","size":4,"filled":true,"opacity":1,"fill":{"gradient":"linear","x1":0,"y1":0,"x2":0,"y2":1,"stops":[{"offset":0,"color":"#7fc63c"},{"offset":1,"color":"#3a7a00"}]}},"encoding":{"x":{"datum":883},"y":{"datum":16.04}}},
{"mark":{"type":"point","shape":"M-14,0 a14,14 0 1,0 28,0 a14,14 0 1,0 -28,0 M0,-8 L0,1 L8,1 M-18,-9 L-10,-17 M18,-9 L10,-17 M-10,12 L-14,18 M10,12 L14,18","size":4,"filled":false,"opacity":1,"stroke":"#ffffff","strokeWidth":3},"encoding":{"x":{"datum":940},"y":{"datum":16.0}}}
]}
